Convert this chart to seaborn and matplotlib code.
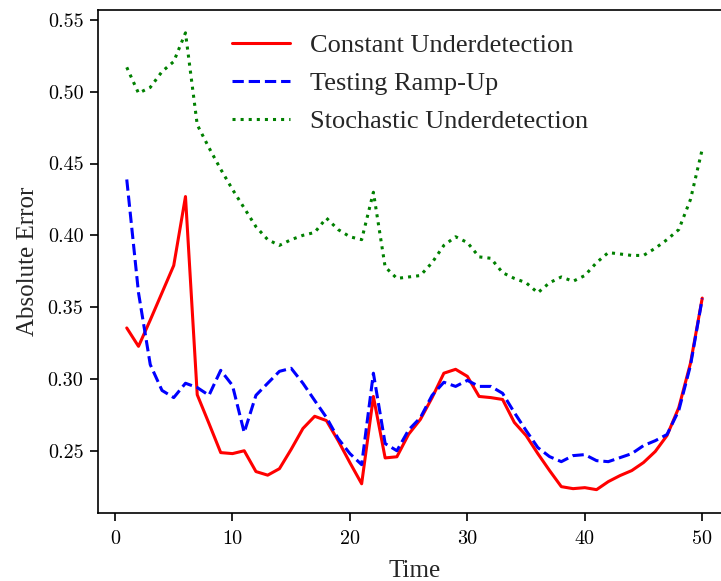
import numpy as np
import pandas as pd
import matplotlib
matplotlib.use("Agg")
import matplotlib.pyplot as plt
import seaborn as sns

time = list(range(1, 51))
constant = [0.3355, 0.3227, 0.341, 0.360, 0.379, 0.427, 0.289, 0.269, 0.2487, 0.248,
            0.250, 0.2355, 0.233, 0.2375, 0.251, 0.2655, 0.274, 0.271, 0.257, 0.2417,
            0.227, 0.2878, 0.245, 0.2458, 0.2615, 0.2718, 0.287, 0.304, 0.3067, 0.3018,
            0.2878, 0.287, 0.2857, 0.2697, 0.2606, 0.248, 0.2362, 0.225, 0.2236, 0.2243,
            0.2229, 0.2285, 0.2327, 0.2362, 0.2418, 0.2495, 0.2606, 0.280, 0.311, 0.3563]
ramp = [0.4389, 0.360, 0.310, 0.292, 0.287, 0.297, 0.294, 0.2886, 0.306, 0.2955,
        0.2627, 0.2886, 0.297, 0.3053, 0.3074, 0.297, 0.285, 0.2732, 0.2585, 0.248,
        0.2403, 0.304, 0.255, 0.250, 0.2645, 0.273, 0.2886, 0.2977, 0.2948, 0.299,
        0.2948, 0.2948, 0.290, 0.2766, 0.2641, 0.2522, 0.2459, 0.2424, 0.2466, 0.2473,
        0.2431, 0.2424, 0.2452, 0.248, 0.2536, 0.257, 0.2613, 0.278, 0.3095, 0.356]
stochastic = [0.517, 0.499, 0.503, 0.514, 0.521, 0.541, 0.477, 0.461, 0.446, 0.432,
              0.419, 0.406, 0.397, 0.393, 0.397, 0.400, 0.402, 0.412, 0.404, 0.399,
              0.397, 0.430, 0.378, 0.370, 0.371, 0.372, 0.381, 0.393, 0.399, 0.395,
              0.385, 0.384, 0.374, 0.370, 0.367, 0.360, 0.367, 0.371, 0.368, 0.372,
              0.381, 0.388, 0.387, 0.386, 0.386, 0.391, 0.397, 0.404, 0.425, 0.460]
labels = ["Constant Underdetection", "Testing Ramp-Up", "Stochastic Underdetection"]
xticks = [0, 10, 20, 30, 40, 50]
yticks = [0.25, 0.30, 0.35, 0.40, 0.45, 0.50, 0.55]
ytick_labels = ["0.25", "0.30", "0.35", "0.40", "0.45", "0.50", "0.55"]

sns.set_style("ticks")
plt.rcParams["font.family"] = ["serif"]
plt.rcParams["font.serif"] = ["Liberation Serif", "DejaVu Serif"]
plt.rcParams["axes.unicode_minus"] = False

df = pd.DataFrame({"Time": time * 3,
                   "value": constant + ramp + stochastic,
                   "series": [labels[0]] * 50 + [labels[1]] * 50 + [labels[2]] * 50})

fig = plt.figure(figsize=(7.21, 5.81), dpi=100)
ax = fig.add_axes([0.1359, 0.1179, 0.878, 0.8649])
colors = ["red", "blue", "green"]
styles = ["-", "--", ":"]
for lab, c, ls in zip(labels, colors, styles):
    sub = df[df["series"] == lab]
    sns.lineplot(data=sub, x="Time", y="value", ax=ax, color=c, linestyle=ls,
                 linewidth=2.2, label=lab)

ax.set_xticks(xticks)
ax.set_xticklabels([str(v) for v in xticks], family="cmr10", fontsize=14.5)
ax.set_yticks(yticks)
ax.set_yticklabels(ytick_labels, family="cmr10", fontsize=14.5)
ax.tick_params(axis="x", length=5.5, width=1.2, colors="black", pad=7)
ax.tick_params(axis="y", length=5.5, width=1.2, colors="black", pad=5)
ax.set_xlabel("Time", fontsize=18, labelpad=9)
ax.set_ylabel("Absolute Error", fontsize=18, labelpad=6)
for s in ax.spines.values():
    s.set_linewidth(1.2)
    s.set_color("black")
ax.legend(loc="upper left", bbox_to_anchor=(0.174, 1.0), frameon=False, fontsize=19,
          handlelength=2.2, handletextpad=0.76, labelspacing=0.55)
fig.savefig("out.png", dpi=100)
